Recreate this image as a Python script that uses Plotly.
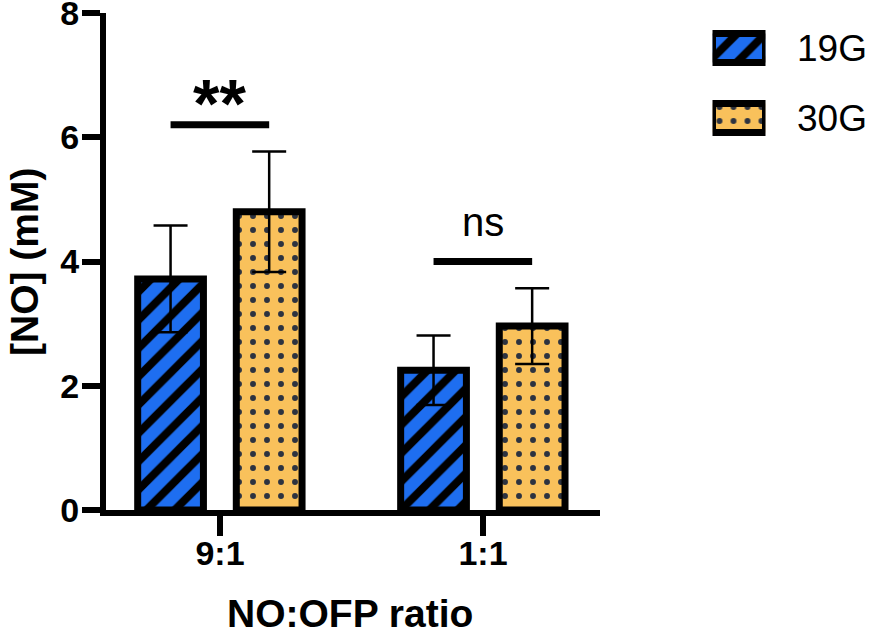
import plotly.graph_objects as go

W, H = 870, 635

# ---------- data ----------
ratios = ["9:1", "1:1"]
groups = ["19G", "30G"]
no_19g = [3.72, 2.25]
err_19g = [0.86, 0.56]
no_30g = [4.80, 2.96]
err_30g = [0.97, 0.61]
sig_labels = ["**", "ns"]
sig_heights = [6.2, 4.0]

blue = "#1E6EF0"
orange = "#F9C15B"
dot_col = "#2D3340"
FONT = "Liberation Sans, Arial, sans-serif"

def fx(p):
    return p / W

def fy(p):
    return 1 - p / H

pos = list(range(len(ratios)))
bar_w = 0.25
off_19 = -0.313
off_30 = 0.062
c_19 = off_19 + bar_w / 2
c_30 = off_30 + bar_w / 2

stripes = dict(shape="/", fgcolor="black", bgcolor=blue, size=20, solidity=0.4, fillmode="replace")
dotted = dict(shape=".", fgcolor=dot_col, bgcolor=orange, size=14, solidity=0.14, fillmode="replace")

fig = go.Figure()
fig.add_trace(go.Bar(
    x=pos, y=no_19g, name=groups[0], width=bar_w, offset=off_19,
    marker=dict(color=blue, pattern=stripes, line=dict(color="black", width=7)),
    error_y=dict(type="data", array=err_19g, color="black", thickness=2.5, width=17),
    showlegend=False,
))
fig.add_trace(go.Bar(
    x=pos, y=no_30g, name=groups[1], width=bar_w, offset=off_30,
    marker=dict(color=orange, pattern=dotted, line=dict(color="black", width=7)),
    error_y=dict(type="data", array=err_30g, color="black", thickness=2.5, width=17),
    showlegend=False,
))

# legend swatches on their own hidden axes
fig.add_trace(go.Bar(
    x=[1], y=[1], orientation="h", width=0.414, xaxis="x2", yaxis="y2",
    marker=dict(color=blue, pattern=stripes, line=dict(color="black", width=7)),
    showlegend=False, hoverinfo="skip",
))
fig.add_trace(go.Bar(
    x=[1], y=[0], orientation="h", width=0.414, xaxis="x2", yaxis="y2",
    marker=dict(color=orange, pattern=dotted, line=dict(color="black", width=7)),
    showlegend=False, hoverinfo="skip",
))

# significance bars + labels
shapes = []
annotations = []
for i, (lab, h) in enumerate(zip(sig_labels, sig_heights)):
    shapes.append(dict(type="line", xref="x", yref="y", x0=i + c_19, x1=i + c_30, y0=h, y1=h,
                       line=dict(color="black", width=7)))
    if lab == "**":
        annotations.append(dict(x=i + (c_19 + c_30) / 2, y=h, xref="x", yref="y", text=lab,
                                showarrow=False, yanchor="bottom", yshift=-18,
                                font=dict(family=FONT, size=68, color="black", weight="bold")))
    else:
        annotations.append(dict(x=i + (c_19 + c_30) / 2, y=h, xref="x", yref="y", text=lab,
                                showarrow=False, yanchor="bottom", yshift=16,
                                font=dict(family=FONT, size=40, color="black")))

for g, yc in zip(groups, [48, 118]):
    annotations.append(dict(x=fx(869), y=fy(yc), xref="paper", yref="paper", text=g,
                            showarrow=False, xanchor="right", yanchor="middle",
                            font=dict(family=FONT, size=37, color="black")))

annotations.append(dict(x=fx(350), y=fy(613), xref="paper", yref="paper", text="NO:OFP ratio",
                        showarrow=False, xanchor="center", yanchor="middle",
                        font=dict(family=FONT, size=39, color="black", weight="bold")))
annotations.append(dict(x=fx(24), y=fy(262), xref="paper", yref="paper", text="[NO] (mM)",
                        showarrow=False, textangle=-90, xanchor="center", yanchor="middle",
                        font=dict(family=FONT, size=39, color="black", weight="bold")))

tick_font = dict(family=FONT, size=34, color="black", weight="bold")

fig.update_layout(
    width=W, height=H,
    margin=dict(l=0, r=0, t=0, b=0),
    plot_bgcolor="white", paper_bgcolor="white",
    barmode="overlay",
    shapes=shapes, annotations=annotations,
    xaxis=dict(domain=[fx(106), fx(600)], range=[-0.4335, 1.445], automargin=False,
               tickvals=pos, ticktext=ratios, ticks="outside", ticklen=20, tickwidth=6,
               tickcolor="black", showline=True, linewidth=6, linecolor="black",
               showgrid=False, zeroline=False, ticklabeloverflow="allow",
               ticklabelstandoff=-12, tickfont=tick_font),
    yaxis=dict(domain=[fy(510), fy(13)], range=[0, 8], tickvals=[0, 2, 4, 6, 8], automargin=False,
               ticks="outside", ticklen=18, tickwidth=6, tickcolor="black",
               showline=True, linewidth=6, linecolor="black",
               showgrid=False, zeroline=False, ticklabeloverflow="allow",
               ticklabelstandoff=-4, tickfont=tick_font),
    xaxis2=dict(domain=[fx(712.5), fx(765.5)], range=[0, 1], visible=False, anchor="y2",
                automargin=False),
    yaxis2=dict(domain=[fy(136), fy(30)], range=[-0.257, 1.257], visible=False, anchor="x2",
                automargin=False),
)

# page body has a default 8px margin; drop it so the figure fills the window
fig.write_html("out.html", config={"displayModeBar": False},
               post_script="document.body.style.margin='0';")
